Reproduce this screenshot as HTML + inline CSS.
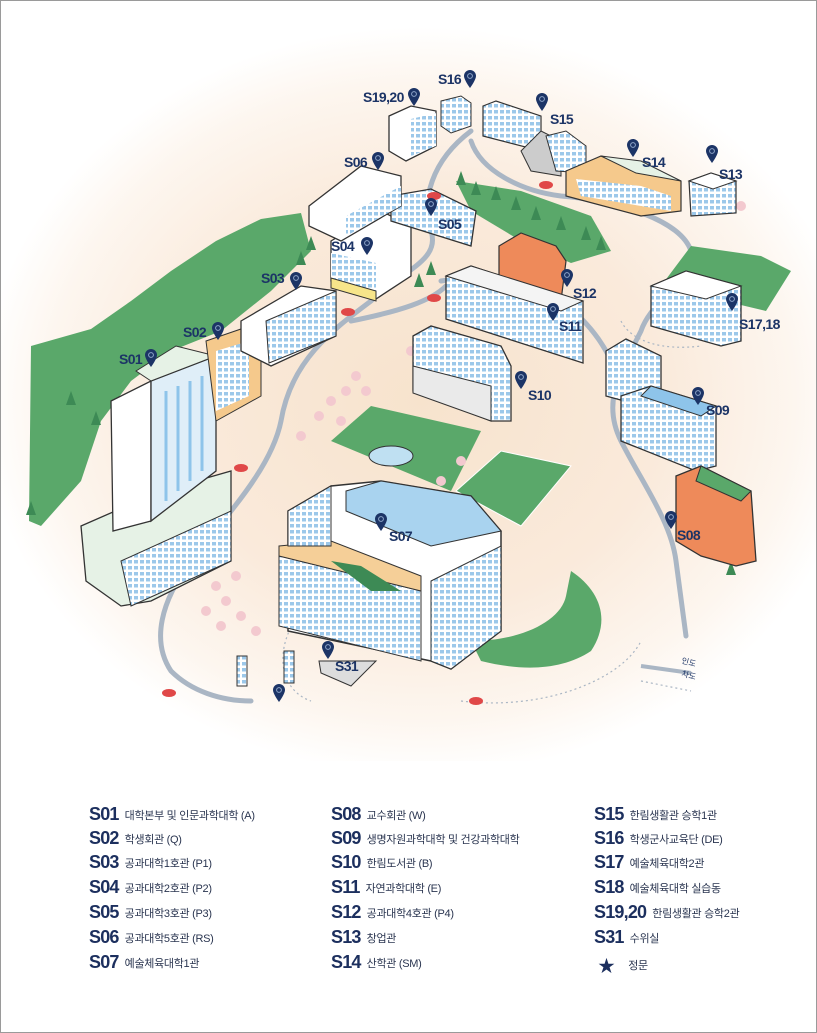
<!DOCTYPE html>
<html><head><meta charset="utf-8"><style>
html,body{margin:0;padding:0;background:#fff}
#wrap{position:relative;width:815px;height:1031px;border:1px solid #9a9a9a;overflow:hidden;background:#fff}
svg{position:absolute;left:0;top:0}
.lg{position:absolute;font-family:"Liberation Sans","Noto Sans CJK KR",sans-serif;color:#1c2f5e;white-space:nowrap}
.lg b{font-size:18px;font-weight:bold;letter-spacing:-0.8px;display:inline-block;vertical-align:middle}
.lg span{font-size:11px;color:#2a3550;vertical-align:middle;margin-left:6px;letter-spacing:-0.3px}
.lb{font-family:"Liberation Sans",sans-serif;font-weight:bold;font-size:14px;fill:#1c3466;letter-spacing:-0.6px}
</style></head><body><div id="wrap">
<svg width="817" height="1033" viewBox="0 0 817 1033">
<defs>
<radialGradient id="bg" cx="420" cy="400" r="440" gradientUnits="userSpaceOnUse" gradientTransform="translate(0 400) scale(1 0.85) translate(0 -400)">
<stop offset="0" stop-color="#f7e3cd"/><stop offset="0.55" stop-color="#faeadb"/><stop offset="0.85" stop-color="#fdf6ef"/><stop offset="1" stop-color="#ffffff"/></radialGradient>
<symbol id="pin" viewBox="0 0 12 18"><path d="M6 0C2.7 0 0 2.6 0 5.9 0 10 6 18 6 18S12 10 12 5.9C12 2.6 9.3 0 6 0z" fill="#1c3466"/><circle cx="6" cy="6" r="2.4" fill="none" stroke="#8fa6c9" stroke-width="1"/></symbol>
<pattern id="win" width="6" height="6" patternUnits="userSpaceOnUse"><rect width="6" height="6" fill="#fff"/><rect x="1" y="1" width="4" height="3.5" fill="#9cc8ea"/></pattern>
</defs>
<rect width="817" height="1033" fill="url(#bg)"/>
<rect y="760" width="817" height="273" fill="#fff"/>
<!-- green hill left -->
<path d="M30 345 L90 328 L130 300 L170 270 L215 240 L260 218 L300 212 L310 250 L270 290 L220 330 L170 350 L130 380 L100 420 L80 480 L40 525 L28 520 Z" fill="#5aa86a"/>
<!-- roads -->
<g fill="none" stroke="#aab6c4" stroke-width="5" stroke-linecap="round">
<path d="M470 130 C430 160 420 200 430 230 C440 260 400 270 370 300 C330 330 290 360 280 420 C270 470 220 520 190 560 C160 600 150 640 170 670 C190 690 220 700 250 700"/>
<path d="M470 140 C480 170 520 190 560 195 C620 200 680 220 690 250 C690 280 650 300 640 330 C620 370 600 400 620 440 C640 480 670 520 675 560 L685 635"/>
<path d="M440 280 C500 270 540 285 560 300 C600 330 610 360 620 380"/>
<path d="M350 320 C400 310 430 300 445 285"/>
</g>
<g fill="none" stroke="#aab6c4" stroke-width="1.2" stroke-dasharray="2 3">
<path d="M300 610 C270 650 280 690 310 700"/><path d="M460 700 C540 710 620 680 640 640"/>
<path d="M620 320 C630 340 660 350 700 345"/><path d="M640 680 L690 690"/>
</g>
<path d="M640 665 L690 672" stroke="#aab6c4" stroke-width="4"/>
<text x="680" y="662" font-size="8" fill="#1c3466" font-family="Liberation Sans,Noto Sans CJK KR,sans-serif" transform="rotate(15 680 662)">인도</text>
<text x="680" y="675" font-size="8" fill="#1c3466" font-family="Liberation Sans,Noto Sans CJK KR,sans-serif" transform="rotate(15 680 675)">차도</text>
<!-- trees top center -->
<path d="M455 180 L520 190 L590 215 L610 250 L570 262 L520 240 L470 210 Z" fill="#5aa86a"/>
<g fill="#3d8a55"><path d="M460 170 l5 14 h-10z M475 180 l5 14 h-10z M495 185 l5 14 h-10z M515 195 l5 14 h-10z M535 205 l5 14 h-10z M560 215 l5 14 h-10z M585 225 l5 14 h-10z M600 235 l5 14 h-10z M310 235 l5 14 h-10z M300 250 l5 14 h-10z M430 260 l5 14 h-10z M418 272 l5 14 h-10z M70 390 l5 14 h-10z M95 410 l5 14 h-10z M30 500 l5 14 h-10z M715 540 l5 14 h-10z M730 560 l5 14 h-10z"/></g>
<path d="M570 570 C600 590 610 620 590 650 C560 670 520 670 480 660 L470 640 C520 640 560 620 565 595 Z" fill="#5aa86a"/>
<path d="M330 440 L370 405 L480 430 L450 490 Z" fill="#5aa86a"/>
<ellipse cx="390" cy="455" rx="22" ry="10" fill="#bfe0f2" stroke="#333" stroke-width="1"/>
<path d="M455 490 L500 450 L570 465 L520 525 Z" fill="#5aa86a" stroke="#fff" stroke-width="1"/>
<path d="M690 245 L760 255 L790 270 L765 310 L660 285 Z" fill="#5aa86a"/>
<g fill="#f3c9cf">
<circle cx="355" cy="375" r="5"/><circle cx="345" cy="390" r="5"/><circle cx="330" cy="400" r="5"/><circle cx="318" cy="415" r="5"/><circle cx="300" cy="435" r="5"/><circle cx="365" cy="390" r="5"/><circle cx="340" cy="420" r="5"/><circle cx="460" cy="460" r="5"/><circle cx="440" cy="480" r="5"/>
<circle cx="215" cy="585" r="5"/><circle cx="225" cy="600" r="5"/><circle cx="205" cy="610" r="5"/><circle cx="220" cy="625" r="5"/><circle cx="240" cy="615" r="5"/><circle cx="255" cy="630" r="5"/><circle cx="235" cy="575" r="5"/><circle cx="410" cy="350" r="5"/><circle cx="740" cy="205" r="5"/>
</g>
<!-- S01 -->
<path d="M80 525 L160 490 L230 470 L230 560 L150 600 L120 605 L85 580 Z" fill="#e6f2e6" stroke="#333" stroke-width="1.3"/>
<path d="M120 560 L230 510 L230 560 L130 605 Z" fill="url(#win)" stroke="#333"/>
<path d="M110 400 L150 380 L150 520 L112 530 Z" fill="#fff" stroke="#333" stroke-width="1.3"/>
<path d="M150 380 L215 355 L215 470 L150 520 Z" fill="#dfeef8" stroke="#333" stroke-width="1.3"/>
<g stroke="#8ec4ea" stroke-width="3"><path d="M165 390 v110 M177 385 v105 M189 380 v100 M201 375 v95"/></g>
<path d="M135 370 L175 345 L215 355 L150 380 Z" fill="#e6f2e6" stroke="#333"/>
<!-- S02 -->
<path d="M205 340 L240 328 L260 345 L260 395 L215 420 Z" fill="#f5c98c" stroke="#333"/>
<path d="M215 350 L248 340 L248 395 L215 410 Z" fill="url(#win)"/>
<!-- S03 -->
<path d="M240 320 L300 285 L335 290 L335 335 L270 365 L240 350 Z" fill="#fff" stroke="#333" stroke-width="1.3"/>
<path d="M265 320 L335 290 L335 335 L268 362 Z" fill="url(#win)" stroke="#333"/>
<!-- S04 -->
<path d="M330 240 L380 210 L410 225 L410 275 L375 298 L330 280 Z" fill="#fff" stroke="#333" stroke-width="1.3"/>
<path d="M330 252 L375 262 L375 290 L330 277 Z" fill="url(#win)"/>
<path d="M330 277 L375 290 L375 300 L330 287 Z" fill="#f7e58a" stroke="#333"/>
<!-- S05 -->
<path d="M390 195 L430 188 L475 210 L470 245 L390 220 Z" fill="url(#win)" stroke="#333" stroke-width="1.3"/>
<!-- S06 -->
<path d="M308 205 L360 165 L400 175 L400 205 L340 240 L308 225 Z" fill="#fff" stroke="#333" stroke-width="1.3"/>
<path d="M345 215 L400 185 L400 205 L345 235 Z" fill="url(#win)"/>
<!-- S19,20 -->
<path d="M388 115 L410 105 L435 110 L435 145 L405 160 L388 150 Z" fill="#fff" stroke="#333" stroke-width="1.3"/>
<path d="M410 118 L435 112 L435 145 L410 155 Z" fill="url(#win)"/>
<!-- S16 -->
<path d="M440 100 L460 95 L470 102 L470 125 L450 132 L440 125 Z" fill="url(#win)" stroke="#333"/>
<!-- S15 -->
<path d="M482 105 L495 100 L540 115 L540 150 L482 135 Z" fill="url(#win)" stroke="#333" stroke-width="1.2"/>
<path d="M520 150 L540 130 L560 140 L560 175 L530 170 Z" fill="#ccc" stroke="#333"/>
<path d="M545 135 L565 130 L585 145 L585 172 L555 170 Z" fill="url(#win)" stroke="#333"/>
<!-- S14 -->
<path d="M565 170 L600 155 L640 165 L680 180 L680 210 L640 215 L565 195 Z" fill="#f5c98c" stroke="#333" stroke-width="1.2"/>
<path d="M575 178 L640 185 L670 195 L670 210 L580 195 Z" fill="url(#win)"/>
<path d="M600 155 L640 160 L680 180 L635 172 Z" fill="#e6f2e6" stroke="#333"/>
<!-- S13 -->
<path d="M688 180 L710 172 L735 180 L735 212 L690 215 Z" fill="url(#win)" stroke="#333" stroke-width="1.2"/>
<path d="M688 180 L710 172 L735 180 L712 188 Z" fill="#fff" stroke="#333"/>
<!-- S12 -->
<path d="M498 245 L520 232 L555 245 L565 260 L560 300 L530 298 L498 285 Z" fill="#ee8a5a" stroke="#333" stroke-width="1.2"/>
<!-- S11 -->
<path d="M445 275 L470 265 L560 295 L582 300 L582 362 L445 318 Z" fill="url(#win)" stroke="#333" stroke-width="1.3"/>
<path d="M445 275 L470 265 L582 300 L560 310 Z" fill="#f4f4f4" stroke="#333"/>
<!-- S10 -->
<path d="M412 335 L430 325 L500 345 L510 365 L510 420 L490 420 L412 390 Z" fill="url(#win)" stroke="#333" stroke-width="1.3"/>
<path d="M412 365 L490 385 L490 420 L412 392 Z" fill="#eaeaea" stroke="#333"/>
<!-- S17,18 -->
<path d="M650 285 L685 270 L740 285 L740 340 L720 345 L650 325 Z" fill="url(#win)" stroke="#333" stroke-width="1.3"/>
<path d="M650 285 L685 270 L740 285 L705 298 Z" fill="#fff" stroke="#333"/>
<!-- S09 -->
<path d="M605 350 L625 338 L660 355 L660 410 L605 395 Z" fill="url(#win)" stroke="#333" stroke-width="1.3"/>
<path d="M620 395 L650 385 L715 405 L715 465 L695 470 L620 440 Z" fill="url(#win)" stroke="#333" stroke-width="1.3"/>
<path d="M650 385 L715 405 L700 415 L640 395 Z" fill="#8ec4ea" stroke="#333"/>
<!-- S08 -->
<path d="M675 475 L700 465 L750 490 L755 560 L735 565 L700 555 L675 540 Z" fill="#ee8a5a" stroke="#333" stroke-width="1.3"/>
<path d="M700 465 L750 490 L740 500 L695 480 Z" fill="#5aa86a" stroke="#333"/>
<!-- S07 -->
<path d="M287 510 L330 485 L380 480 L470 495 L500 530 L500 630 L450 668 L430 660 L287 630 Z" fill="#fff" stroke="#333" stroke-width="1.5"/>
<path d="M345 490 L380 480 L470 495 L500 530 L430 545 L345 510 Z" fill="#a9d3ef" stroke="#333"/>
<path d="M278 555 L420 590 L420 660 L278 625 Z" fill="url(#win)" stroke="#333"/>
<path d="M430 580 L500 545 L500 630 L450 668 L430 660 Z" fill="url(#win)" stroke="#333"/>
<path d="M278 545 L330 540 L420 575 L420 590 L278 555 Z" fill="#f5cf98" stroke="#333"/>
<path d="M330 560 L360 565 L400 590 L370 590 Z" fill="#3d8a55"/>
<path d="M287 510 L330 485 L330 545 L287 545 Z" fill="url(#win)" stroke="#333"/>
<!-- S31 -->
<path d="M318 660 L345 660 L375 660 L350 685 L320 672 Z" fill="#ddd" stroke="#333"/>
<rect x="236" y="655" width="10" height="30" fill="url(#win)" stroke="#333"/>
<rect x="283" y="650" width="10" height="32" fill="url(#win)" stroke="#333"/>
<g fill="#e04848"><ellipse cx="240" cy="467" rx="7" ry="4"/><ellipse cx="168" cy="692" rx="7" ry="4"/><ellipse cx="475" cy="700" rx="7" ry="4"/><ellipse cx="347" cy="311" rx="7" ry="4"/><ellipse cx="433" cy="297" rx="7" ry="4"/><ellipse cx="433" cy="195" rx="7" ry="4"/><ellipse cx="545" cy="184" rx="7" ry="4"/></g>
<use href="#pin" x="144" y="348" width="12" height="18"/><text class="lb" x="118" y="363">S01</text>
<use href="#pin" x="211" y="321" width="12" height="18"/><text class="lb" x="182" y="336">S02</text>
<use href="#pin" x="289" y="271" width="12" height="18"/><text class="lb" x="260" y="282">S03</text>
<use href="#pin" x="360" y="236" width="12" height="18"/><text class="lb" x="330" y="250">S04</text>
<use href="#pin" x="424" y="197" width="12" height="18"/><text class="lb" x="437" y="228">S05</text>
<use href="#pin" x="371" y="151" width="12" height="18"/><text class="lb" x="343" y="166">S06</text>
<use href="#pin" x="374" y="512" width="12" height="18"/><text class="lb" x="388" y="540">S07</text>
<use href="#pin" x="664" y="510" width="12" height="18"/><text class="lb" x="676" y="539">S08</text>
<use href="#pin" x="691" y="386" width="12" height="18"/><text class="lb" x="705" y="414">S09</text>
<use href="#pin" x="514" y="370" width="12" height="18"/><text class="lb" x="527" y="399">S10</text>
<use href="#pin" x="546" y="302" width="12" height="18"/><text class="lb" x="558" y="330">S11</text>
<use href="#pin" x="560" y="268" width="12" height="18"/><text class="lb" x="572" y="297">S12</text>
<use href="#pin" x="705" y="144" width="12" height="18"/><text class="lb" x="718" y="178">S13</text>
<use href="#pin" x="626" y="138" width="12" height="18"/><text class="lb" x="641" y="166">S14</text>
<use href="#pin" x="535" y="92" width="12" height="18"/><text class="lb" x="549" y="123">S15</text>
<use href="#pin" x="463" y="69" width="12" height="18"/><text class="lb" x="437" y="83">S16</text>
<use href="#pin" x="725" y="292" width="12" height="18"/><text class="lb" x="738" y="328">S17,18</text>
<use href="#pin" x="407" y="87" width="12" height="18"/><text class="lb" x="362" y="101">S19,20</text>
<use href="#pin" x="321" y="640" width="12" height="18"/><text class="lb" x="334" y="670">S31</text>
<use href="#pin" x="272" y="683" width="12" height="18"/>
</svg>
<div class="lg" style="left:88px;top:803px"><b>S01</b><span>대학본부 및 인문과학대학 (A)</span></div>
<div class="lg" style="left:88px;top:827px"><b>S02</b><span>학생회관 (Q)</span></div>
<div class="lg" style="left:88px;top:851px"><b>S03</b><span>공과대학1호관 (P1)</span></div>
<div class="lg" style="left:88px;top:876px"><b>S04</b><span>공과대학2호관 (P2)</span></div>
<div class="lg" style="left:88px;top:901px"><b>S05</b><span>공과대학3호관 (P3)</span></div>
<div class="lg" style="left:88px;top:926px"><b>S06</b><span>공과대학5호관 (RS)</span></div>
<div class="lg" style="left:88px;top:951px"><b>S07</b><span>예술체육대학1관</span></div>
<div class="lg" style="left:330px;top:803px"><b>S08</b><span>교수회관 (W)</span></div>
<div class="lg" style="left:330px;top:827px"><b>S09</b><span>생명자원과학대학 및 건강과학대학</span></div>
<div class="lg" style="left:330px;top:851px"><b>S10</b><span>한림도서관 (B)</span></div>
<div class="lg" style="left:330px;top:876px"><b>S11</b><span>자연과학대학 (E)</span></div>
<div class="lg" style="left:330px;top:901px"><b>S12</b><span>공과대학4호관 (P4)</span></div>
<div class="lg" style="left:330px;top:926px"><b>S13</b><span>창업관</span></div>
<div class="lg" style="left:330px;top:951px"><b>S14</b><span>산학관 (SM)</span></div>
<div class="lg" style="left:593px;top:803px"><b>S15</b><span>한림생활관 승학1관</span></div>
<div class="lg" style="left:593px;top:827px"><b>S16</b><span>학생군사교육단 (DE)</span></div>
<div class="lg" style="left:593px;top:851px"><b>S17</b><span>예술체육대학2관</span></div>
<div class="lg" style="left:593px;top:876px"><b>S18</b><span>예술체육대학 실습동</span></div>
<div class="lg" style="left:593px;top:901px"><b>S19,20</b><span>한림생활관 승학2관</span></div>
<div class="lg" style="left:593px;top:926px"><b>S31</b><span>수위실</span></div>
<div class="lg" style="left:597px;top:951px"><b style="font-size:17px">★</b><span style="margin-left:14px">정문</span></div>
</div></body></html>
